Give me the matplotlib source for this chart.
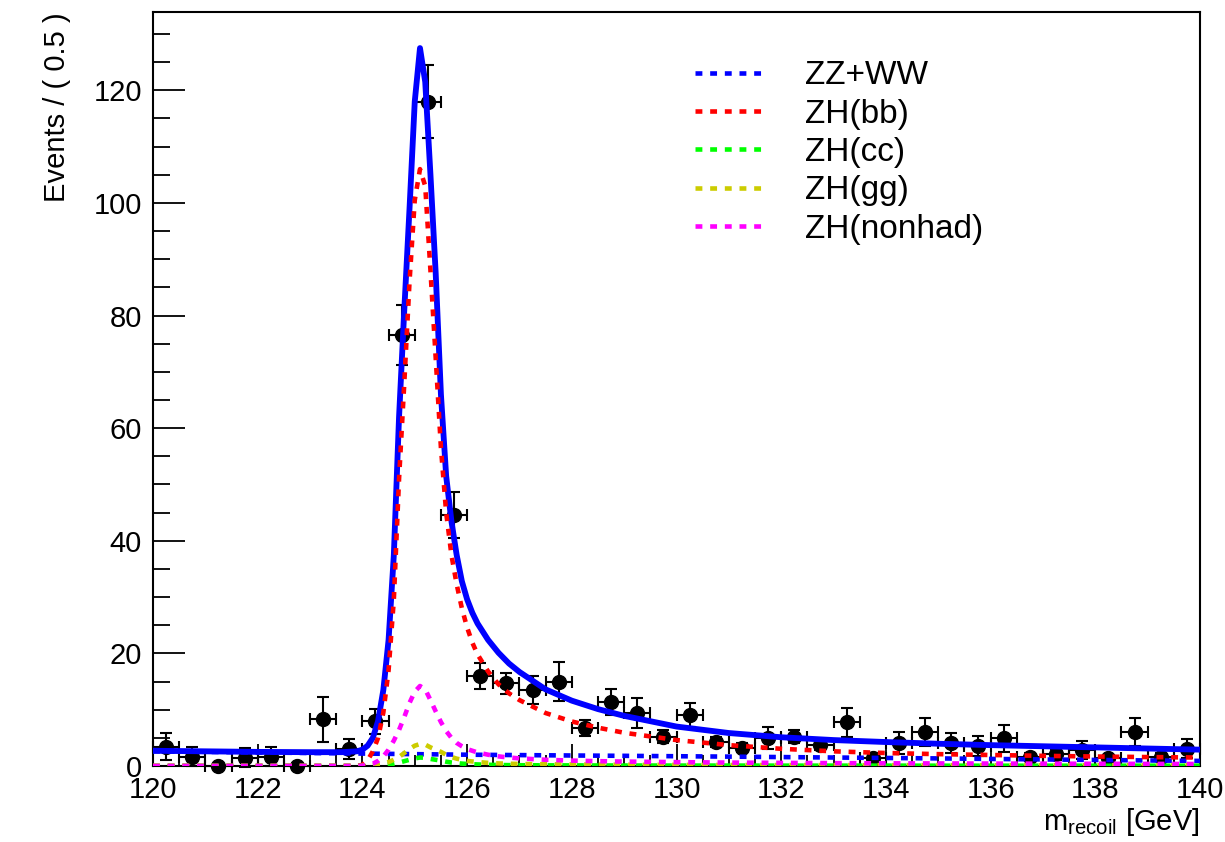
import matplotlib
matplotlib.use("Agg")
import matplotlib.pyplot as plt
from matplotlib.ticker import MultipleLocator

plt.rcParams['font.family'] = ['Liberation Sans', 'DejaVu Sans']

# binned data (0.5 GeV bins)
bin_centers = [120.25, 120.75, 121.25, 121.75, 122.25, 122.75, 123.25, 123.75,
               124.25, 124.75, 125.25, 125.75, 126.25, 126.75, 127.25, 127.75,
               128.25, 128.75, 129.25, 129.75, 130.25, 130.75, 131.25, 131.75,
               132.25, 132.75, 133.25, 133.75, 134.25, 134.75, 135.25, 135.75,
               136.25, 136.75, 137.25, 137.75, 138.25, 138.75, 139.25, 139.75]
events = [3.4, 1.65, 0.0, 1.5, 1.65, 0.0, 8.3, 2.96,
          7.9, 76.5, 118.0, 44.6, 16.0, 14.7, 13.5, 15.0,
          6.8, 11.3, 9.35, 5.2, 9.05, 4.3, 3.25, 5.0,
          5.2, 3.7, 7.75, 1.5, 4.1, 6.1, 4.1, 3.55,
          4.9, 1.65, 2.1, 2.8, 1.35, 6.1, 1.65, 3.1]
errors = [2.4, 1.7, 0.0, 1.7, 1.7, 0.0, 4.0, 1.8,
          2.2, 5.3, 6.5, 4.1, 2.3, 1.9, 2.5, 3.4,
          1.4, 2.3, 2.65, 1.2, 2.2, 0.9, 0.8, 1.95,
          1.2, 0.9, 2.6, 0.5, 1.95, 2.5, 1.8, 1.8,
          2.4, 0.7, 1.0, 1.65, 0.6, 2.5, 0.7, 1.65]
half_bin = 0.25

# fit curves
x_sig = [120, 121, 122, 123, 123.6, 123.9,
         124.0, 124.1, 124.2, 124.3, 124.4, 124.5, 124.6, 124.7, 124.8, 124.9,
         125.0, 125.1, 125.2, 125.3, 125.4, 125.5, 125.6, 125.7, 125.8, 125.9, 126.0,
         126.1, 126.2, 126.4, 126.6, 126.8, 127.0, 127.5, 128, 128.5, 129,
         130, 131, 132, 133, 134, 135, 136, 137, 138, 139, 140]
total = [2.7, 2.6, 2.5, 2.45, 2.45, 2.6,
         2.9, 3.6, 5.0, 8.0, 13.5, 22.4, 37.4, 62, 81, 99,
         118, 127.5, 121.5, 105, 87.5, 66, 51.5, 43.5, 37.5, 32.8, 29.6,
         27.2, 25.3, 22.4, 20.1, 18.2, 16.7, 13.6, 11.6, 10.1, 8.9,
         7.0, 5.85, 5.1, 4.6, 4.25, 3.95, 3.7, 3.5, 3.3, 3.1, 2.9]
zh_bb = [0, 0, 0, 0, 0, 0.02,
         0.2, 1.0, 2.6, 5.0, 9.5, 17, 29.5, 51, 68, 86,
         100.5, 106, 103, 88, 72.5, 56.5, 45, 37.5, 32.3, 28.0, 24.6,
         21.9, 19.8, 16.8, 14.5, 12.9, 11.7, 9.4, 7.9, 6.8, 5.9,
         4.6, 3.7, 3.05, 2.6, 2.3, 2.1, 1.95, 1.8, 1.68, 1.58, 1.5]
zh_nonhad = [0, 0, 0, 0, 0, 0,
             0.05, 0.15, 0.4, 0.9, 1.7, 2.9, 4.5, 6.4, 8.7, 11.2,
             13.2, 14.2, 13.6, 11.7, 9.7, 7.8, 6.2, 5.0, 4.1, 3.5, 3.0,
             2.7, 2.4, 2.0, 1.7, 1.5, 1.35, 1.1, 0.95, 0.85, 0.78,
             0.68, 0.6, 0.55, 0.5, 0.47, 0.45, 0.43, 0.41, 0.39, 0.37, 0.35]
zh_gg = [0, 0, 0, 0, 0, 0,
         0.02, 0.05, 0.1, 0.25, 0.45, 0.7, 1.1, 1.6, 2.3, 3.0,
         3.6, 3.9, 3.8, 3.3, 2.9, 2.5, 2.0, 1.6, 1.3, 1.1, 0.9,
         0.8, 0.7, 0.55, 0.45, 0.4, 0.35, 0.3, 0.26, 0.23, 0.21,
         0.19, 0.17, 0.16, 0.15, 0.14, 0.14, 0.13, 0.13, 0.12, 0.12, 0.12]
zh_cc = [0, 0, 0, 0, 0, 0,
         0.01, 0.02, 0.04, 0.09, 0.16, 0.26, 0.4, 0.6, 0.85, 1.1,
         1.35, 1.5, 1.45, 1.25, 1.1, 0.95, 0.76, 0.61, 0.5, 0.42, 0.35,
         0.31, 0.27, 0.21, 0.17, 0.15, 0.13, 0.11, 0.1, 0.09, 0.08,
         0.07, 0.07, 0.06, 0.06, 0.06, 0.05, 0.05, 0.05, 0.05, 0.05, 0.05]
x_bkg = [120, 121, 122, 123, 124, 125, 126, 127, 128, 129, 130,
         131, 132, 133, 134, 135, 136, 137, 138, 139, 140]
zz_ww = [2.6, 2.5, 2.4, 2.3, 2.2, 2.1, 2.0, 1.93, 1.86, 1.8, 1.73,
         1.66, 1.58, 1.5, 1.42, 1.34, 1.25, 1.16, 1.07, 0.98, 0.9]

fig = plt.figure(figsize=(12.25, 8.42), dpi=100)
ax = fig.add_axes([0.1249, 0.0903, 0.8547, 0.8954])

ax.errorbar(bin_centers, events, yerr=errors, xerr=half_bin, fmt='o', color='black',
            markersize=10, elinewidth=1.5, capsize=4, capthick=1.5, zorder=2, clip_on=False)

ax.plot(x_sig, total, color='#0000ff', lw=4.2, zorder=3)

dots = (0, (1.5, 1.7))
lw = 3.3
ax.plot(x_bkg, zz_ww, color='#0000ff', lw=lw, ls=dots, label='ZZ+WW', zorder=4)
ax.plot(x_sig, zh_bb, color='#ff0000', lw=lw, ls=dots, label='ZH(bb)', zorder=4)
ax.plot(x_sig, zh_cc, color='#00ff00', lw=lw, ls=dots, label='ZH(cc)', zorder=4)
ax.plot(x_sig, zh_gg, color='#cccc00', lw=lw, ls=dots, label='ZH(gg)', zorder=4)
ax.plot(x_sig, zh_nonhad, color='#ff00ff', lw=lw, ls=dots, label='ZH(nonhad)', zorder=4)

ax.set_xlim(120, 140)
ax.set_ylim(0, 133.9)

ax.xaxis.set_major_locator(MultipleLocator(2))
ax.xaxis.set_minor_locator(MultipleLocator(0.5))
ax.yaxis.set_major_locator(MultipleLocator(20))
ax.yaxis.set_minor_locator(MultipleLocator(5))
ax.tick_params(axis='both', which='both', direction='in', top=False, right=False,
               labelsize=21, width=1.3)
ax.tick_params(axis='x', which='major', length=16, pad=7)
ax.tick_params(axis='x', which='minor', length=8)
ax.tick_params(axis='y', which='major', length=23, pad=8)
ax.tick_params(axis='y', which='minor', length=12)
for s in ax.spines.values():
    s.set_linewidth(1.5)

ax.set_ylabel('Events / ( 0.5 )', fontsize=21, loc='top')
ax.yaxis.set_label_coords(-0.078, 1.0)
ax.set_xlabel(r'$\mathregular{m_{recoil}}$ [GeV]', fontsize=21, loc='right', labelpad=2)

ax.legend(loc='upper left', bbox_to_anchor=(0.518, 0.936), frameon=False, fontsize=24,
          handlelength=2.05, handletextpad=1.25, labelspacing=0.22,
          borderaxespad=0, borderpad=0)

fig.savefig('out.png', dpi=100)
